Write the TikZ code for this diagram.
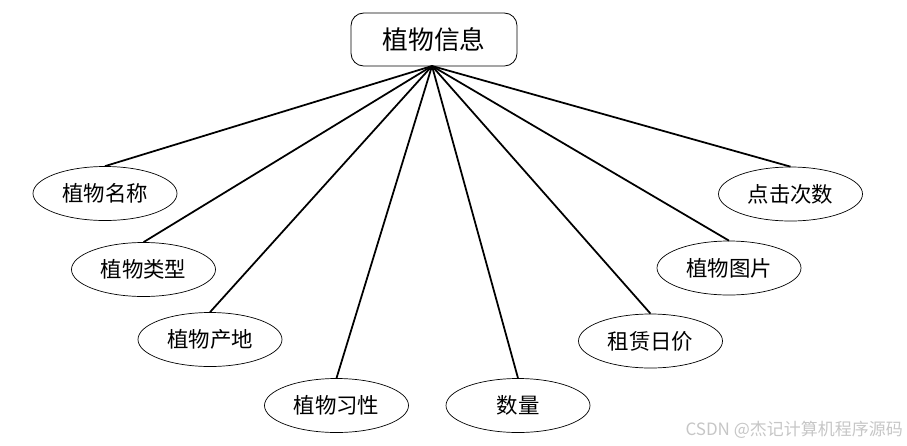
\documentclass[tikz,border=0pt]{standalone}
\usepackage{fontspec}
\setmainfont{Noto Sans CJK SC}
\usetikzlibrary{shapes.geometric}

\tikzset{
  attr/.style={draw, ellipse, line width=0.6pt, inner sep=0pt,
    minimum width=4.32cm, minimum height=1.62cm, font=\fontsize{18.3}{21}\selectfont},
  link/.style={line width=1.5pt}
}

\begin{document}
\begin{tikzpicture}[x=0.03cm, y=-0.03cm]
\useasboundingbox (0, 0) rectangle (907, 445);

\node[draw, rounded corners=0.38cm, line width=0.7pt, inner sep=0pt,
  minimum width=4.98cm, minimum height=1.59cm,
  font=\fontsize{22}{26}\selectfont] (info) at (434, 39.5) {植物信息};
\coordinate (hub) at (432, 66);

\node[attr] (name) at (105, 193.5) {植物名称};
\node[attr] (kind) at (143.5, 269.5) {植物类型};
\node[attr] (origin) at (210, 339.5) {植物产地};
\node[attr] (habit) at (336.5, 405.5) {植物习性};
\node[attr] (amount) at (518, 405.5) {数量};
\node[attr] (price) at (650.5, 341) {租赁日价};
\node[attr] (photo) at (729, 268) {植物图片};
\node[attr] (clicks) at (790.5, 194) {点击次数};

\foreach \n in {name, kind, origin, habit, amount, price, photo, clicks}
  \draw[link] (hub) -- (\n.north);

\node[anchor=east, text=gray!45, inner sep=0pt, font=\fontsize{14.5}{16}\selectfont]
  (mark) at (903, 430) {CSDN @杰记计算机程序源码};
\end{tikzpicture}
\end{document}
